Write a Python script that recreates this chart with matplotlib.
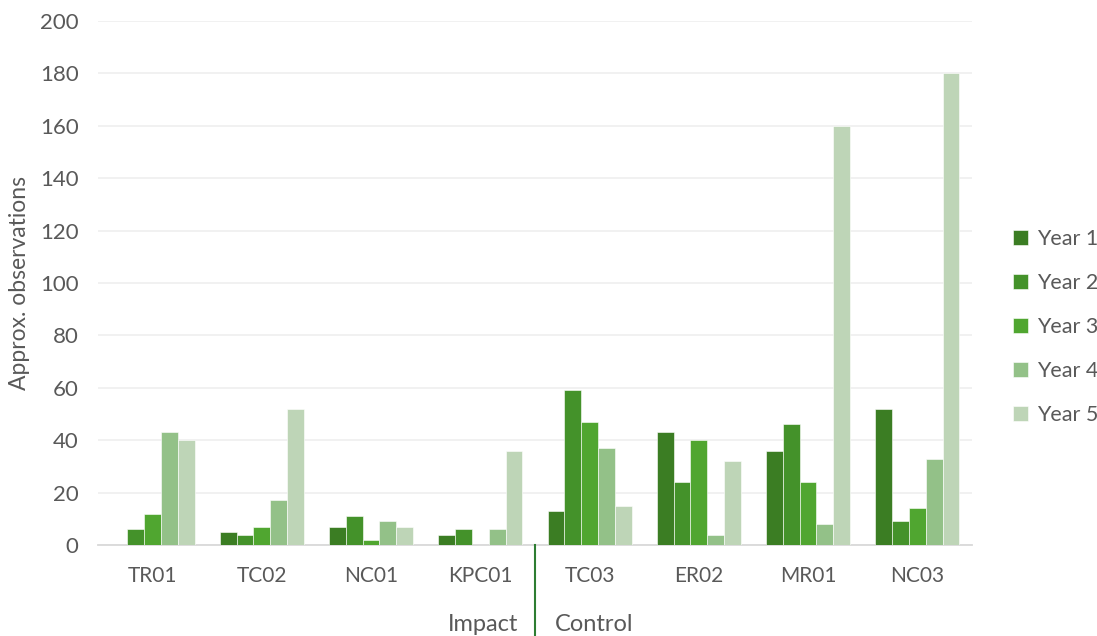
import matplotlib.pyplot as plt
import numpy as np

# Approximate observation counts per site, five survey years
sites = ['TR01', 'TC02', 'NC01', 'KPC01', 'TC03', 'ER02', 'MR01', 'NC03']
year1 = [0, 5, 7, 4, 13, 43, 36, 52]
year2 = [6, 4, 11, 6, 59, 24, 46, 9]
year3 = [12, 7, 2, 0, 47, 40, 24, 14]
year4 = [43, 17, 9, 6, 37, 4, 8, 33]
year5 = [40, 52, 7, 36, 15, 32, 160, 180]
years = ['Year 1', 'Year 2', 'Year 3', 'Year 4', 'Year 5']
groups = ['Impact', 'Control']

colors = ['#3B7D23', '#44922A', '#50A630', '#93C188', '#BED5B7']
txt = '#595959'

plt.rcParams['font.family'] = ['Lato', 'DejaVu Sans']

fig = plt.figure(figsize=(10.97, 6.36), dpi=100)
ax = fig.add_axes([0.0893, 0.1431, 0.7967, 0.8239])

x = np.arange(len(sites))
w = 1 / 6.5
series = [year1, year2, year3, year4, year5]
for i, vals in enumerate(series):
    ax.bar(x + (i - 2) * w, vals, w, color=colors[i], label=years[i],
           edgecolor='white', linewidth=0.4, zorder=3)

ax.set_xlim(-0.5, len(sites) - 0.5)
ax.set_ylim(0, 200)
ax.set_yticks(np.arange(0, 201, 20))
ax.grid(axis='y', color='#F0F0F0', linewidth=1.3, zorder=0)
for s in ['top', 'right', 'left']:
    ax.spines[s].set_visible(False)
ax.spines['bottom'].set_color('#D9D9D9')
ax.spines['bottom'].set_linewidth(1.3)
ax.tick_params(axis='y', length=0, labelsize=16, labelcolor=txt, pad=14)
ax.tick_params(axis='x', length=0, labelsize=15, labelcolor=txt, pad=15)
ax.set_xticks(x)
ax.set_xticklabels(sites)
ax.set_ylabel('Approx. observations', fontsize=16.5, color=txt, labelpad=7)

# group divider and group labels below the category axis
ax.plot([3.5, 3.5], [0, -35], color='#2E7D32', linewidth=1.5,
        clip_on=False, zorder=4)
ax.text(3.35, -30.5, groups[0], ha='right', va='center', fontsize=17, color=txt)
ax.text(3.68, -30.5, groups[1], ha='left', va='center', fontsize=17, color=txt)

ax.legend(loc='center left', bbox_to_anchor=(1.025, 0.416), frameon=False,
          fontsize=15.5, labelcolor=txt, handlelength=0.7, handleheight=0.7,
          handletextpad=0.4, labelspacing=1.12)

fig.savefig('out.png', dpi=100)
